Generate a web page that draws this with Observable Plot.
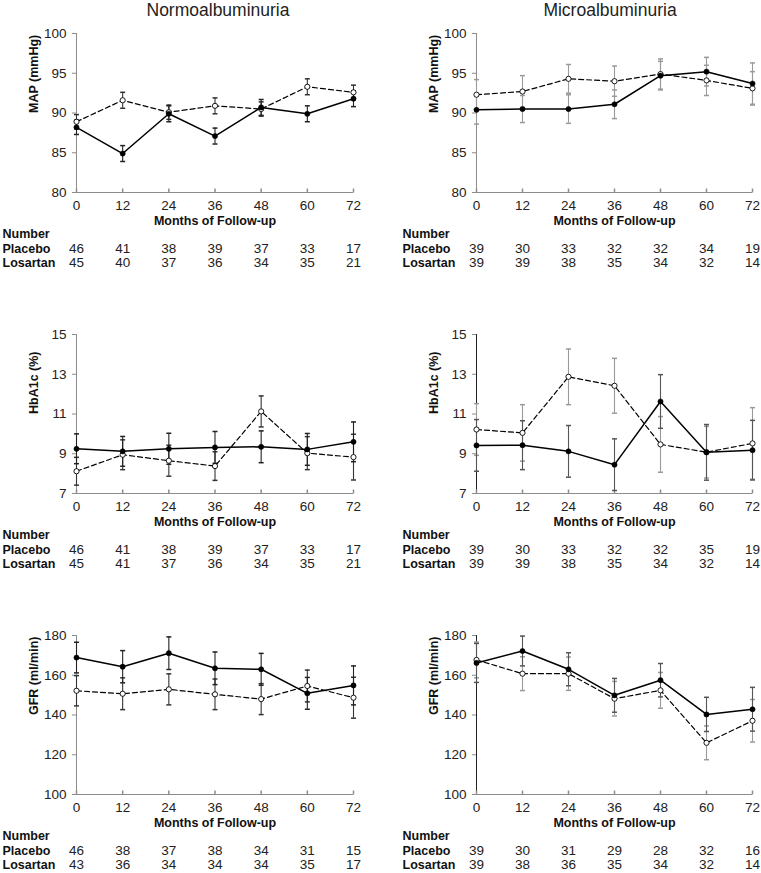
<!DOCTYPE html>
<html>
<head>
<meta charset="utf-8">
<script src="https://cdn.jsdelivr.net/npm/d3@7"></script>
<script src="https://cdn.jsdelivr.net/npm/@observablehq/plot@0.6"></script>
<style>
  html, body { margin: 0; padding: 0; background: #fff; }
  #root { position: relative; width: 761px; height: 873px; overflow: hidden; font-family: "Liberation Sans", Arial, sans-serif; }
  .title { position: absolute; top: 0; width: 300px; text-align: center; font-size: 17.5px; line-height: 20px; color: #222; }
  .panel { position: absolute; }
  .panel svg { overflow: visible; }
</style>
</head>
<body>
<div id="root"></div>
<script>
// ---------- data ----------
const months = [0, 12, 24, 36, 48, 60, 72];
const columnTitles = ["Normoalbuminuria", "Microalbuminuria"];

// MAP (mmHg)
const normoMapLos = [88.2, 84.9, 89.9, 87.1, 90.7, 89.9, 91.8];
const normoMapLosErr = [0.9, 1.0, 1.0, 1.0, 1.0, 1.0, 1.0];
const normoMapPla = [88.9, 91.6, 90.1, 90.9, 90.5, 93.3, 92.6];
const normoMapPlaErr = [0.9, 1.0, 0.9, 1.0, 0.9, 1.0, 0.9];
const microMapLos = [90.4, 90.5, 90.5, 91.1, 94.7, 95.2, 93.7];
const microMapLosErr = [1.8, 1.7, 1.8, 1.8, 1.8, 1.8, 2.6];
const microMapPla = [92.3, 92.7, 94.3, 94.0, 94.9, 94.1, 93.1];
const microMapPlaErr = [1.9, 2.0, 1.8, 1.9, 1.9, 1.9, 2.1];

// HbA1c (%)
const normoHbLos = [9.25, 9.12, 9.25, 9.32, 9.35, 9.22, 9.6];
const normoHbLosErr = [0.75, 0.75, 0.78, 0.8, 0.8, 0.8, 1.0];
const normoHbPla = [8.12, 8.95, 8.65, 8.38, 11.13, 9.03, 8.83];
const normoHbPlaErr = [0.7, 0.75, 0.78, 0.72, 0.78, 0.83, 1.15];
const microHbLos = [9.42, 9.43, 9.12, 8.45, 11.63, 9.07, 9.18];
const microHbLosErr = [1.3, 1.23, 1.3, 1.3, 1.35, 1.4, 1.5];
const microHbPla = [10.22, 10.05, 12.87, 12.42, 9.47, 9.08, 9.52];
const microHbPlaErr = [1.3, 1.42, 1.4, 1.38, 1.4, 1.3, 1.8];

// GFR (ml/min)
const normoGfrLos = [168.9, 164.3, 171.1, 163.5, 163.0, 150.9, 154.9];
const normoGfrLosErr = [7.7, 8.1, 8.2, 8.2, 8.0, 8.0, 9.8];
const normoGfrPla = [152.2, 150.7, 152.9, 150.4, 148.0, 154.6, 148.7];
const normoGfrPlaErr = [7.6, 8.0, 7.8, 7.7, 7.8, 8.0, 10.3];
const microGfrLos = [166.2, 172.2, 163.0, 149.9, 157.5, 140.3, 142.9];
const microGfrLosErr = [9.8, 7.5, 8.3, 8.5, 8.4, 8.6, 11.0];
const microGfrPla = [167.7, 160.8, 160.8, 148.2, 152.4, 126.0, 137.1];
const microGfrPlaErr = [9.0, 8.5, 8.4, 8.7, 9.0, 8.5, 10.7];

// Numbers at risk
const normoMapNPla = [46, 41, 38, 39, 37, 33, 17];
const normoMapNLos = [45, 40, 37, 36, 34, 35, 21];
const normoHbNPla = [46, 41, 38, 39, 37, 33, 17];
const normoHbNLos = [45, 41, 37, 36, 34, 35, 21];
const normoGfrNPla = [46, 38, 37, 38, 34, 31, 15];
const normoGfrNLos = [43, 36, 34, 34, 34, 35, 17];
const microMapNPla = [39, 30, 33, 32, 32, 34, 19];
const microMapNLos = [39, 39, 38, 35, 34, 32, 14];
const microHbNPla = [39, 30, 33, 32, 32, 35, 19];
const microHbNLos = [39, 39, 38, 35, 34, 32, 14];
const microGfrNPla = [39, 30, 31, 29, 28, 32, 16];
const microGfrNLos = [39, 38, 36, 35, 34, 32, 14];

const yLabels = ["MAP (mmHg)", "HbA1c (%)", "GFR (ml/min)"];
const yDomains = [[80, 100], [7, 15], [100, 180]];
const yTickSets = [[80, 85, 90, 95, 100], [7, 9, 11, 13, 15], [100, 120, 140, 160, 180]];
const rowLabels = ["Number", "Placebo", "Losartan"];
const xLabel = "Months of Follow-up";

// ---------- drawing ----------
const FONT = "'Liberation Sans', Arial, sans-serif";
const tickUp = {draw(ctx) { ctx.moveTo(0, 0); ctx.lineTo(0, -4); }};
const cap = {draw(ctx) { ctx.moveTo(-2.5, 0); ctx.lineTo(2.5, 0); }};

function panel(o) {
  const rows = months.map((m, i) => ({
    m,
    los: o.los[i], losLo: o.los[i] - o.losErr[i], losHi: o.los[i] + o.losErr[i],
    pla: o.pla[i], plaLo: o.pla[i] - o.plaErr[i], plaHi: o.pla[i] + o.plaErr[i]
  }));
  const left = o.col === 0;
  const axisGray = "#8c8c8c";
  const yAxisColor = o.yAxisColor || axisGray;
  const ymin = o.yDomain[0];
  const bold = {fontWeight: "bold", fontSize: 12.5, fill: "#111"};
  return Plot.plot({
    width: left ? 380 : 381,
    height: 12 + 159 + 80,
    marginTop: 12,
    marginBottom: 80,
    marginLeft: left ? 76 : 96,
    marginRight: left ? 27 : 9,
    style: {fontFamily: FONT, fontSize: "13.5px", color: "#222", background: "transparent", overflow: "visible"},
    x: {domain: [0, 72]},
    y: {domain: o.yDomain},
    marks: [
      Plot.axisY({ticks: o.yTicks, tickSize: 4, tickPadding: 6, label: null, stroke: axisGray}),
      Plot.axisX({ticks: months, tickSize: 0, tickPadding: 8, label: null}),
      Plot.ruleY([ymin], {stroke: axisGray}),
      Plot.ruleX([0], {stroke: yAxisColor}),
      Plot.dot(months, {x: d => d, y: () => ymin, symbol: tickUp, stroke: axisGray, fill: "none"}),
      // error bars
      Plot.ruleX(rows, {x: "m", y1: "plaLo", y2: "plaHi", stroke: o.plaBar, strokeWidth: 1.1}),
      Plot.dot(rows, {x: "m", y: "plaLo", symbol: cap, stroke: o.plaBar, fill: "none"}),
      Plot.dot(rows, {x: "m", y: "plaHi", symbol: cap, stroke: o.plaBar, fill: "none"}),
      Plot.ruleX(rows, {x: "m", y1: "losLo", y2: "losHi", stroke: o.losBar, strokeWidth: 1.1}),
      Plot.dot(rows, {x: "m", y: "losLo", symbol: cap, stroke: o.losBar, fill: "none"}),
      Plot.dot(rows, {x: "m", y: "losHi", symbol: cap, stroke: o.losBar, fill: "none"}),
      // lines
      Plot.line(rows, {x: "m", y: "pla", stroke: "#000", strokeWidth: 1.2, strokeDasharray: "5,3"}),
      Plot.line(rows, {x: "m", y: "los", stroke: "#000", strokeWidth: 1.5}),
      Plot.dot(rows, {x: "m", y: "pla", r: 2.6, fill: "#fff", stroke: "#000", strokeWidth: 0.9}),
      Plot.dot(rows, {x: "m", y: "los", r: 2.6, fill: "#000", stroke: "#000", strokeWidth: 0.5}),
      // labels
      Plot.text([o.yLabel], {text: d => d, frameAnchor: "left", rotate: -90, dx: -43, ...bold}),
      Plot.text([xLabel], {text: d => d, frameAnchor: "bottom", dy: 32, ...bold}),
      Plot.text([rowLabels[0]], {text: d => d, frameAnchor: "bottom-left", textAnchor: "start", dx: -74, dy: 45, ...bold}),
      Plot.text([rowLabels[1]], {text: d => d, frameAnchor: "bottom-left", textAnchor: "start", dx: -74, dy: 60, ...bold}),
      Plot.text([rowLabels[2]], {text: d => d, frameAnchor: "bottom-left", textAnchor: "start", dx: -74, dy: 74, ...bold}),
      Plot.text(months, {x: d => d, text: (d, i) => o.nPla[i], frameAnchor: "bottom", dy: 60, fill: "#222"}),
      Plot.text(months, {x: d => d, text: (d, i) => o.nLos[i], frameAnchor: "bottom", dy: 74, fill: "#222"})
    ]
  });
}

const root = document.getElementById("root");
columnTitles.forEach((t, c) => {
  const d = document.createElement("div");
  d.className = "title";
  d.textContent = t;
  d.style.left = (c === 0 ? 218 - 150 : 610 - 150) + "px";
  root.appendChild(d);
});

const panels = [
  {col: 0, row: 0, los: normoMapLos, losErr: normoMapLosErr, pla: normoMapPla, plaErr: normoMapPlaErr, nPla: normoMapNPla, nLos: normoMapNLos},
  {col: 0, row: 1, los: normoHbLos, losErr: normoHbLosErr, pla: normoHbPla, plaErr: normoHbPlaErr, nPla: normoHbNPla, nLos: normoHbNLos},
  {col: 0, row: 2, los: normoGfrLos, losErr: normoGfrLosErr, pla: normoGfrPla, plaErr: normoGfrPlaErr, nPla: normoGfrNPla, nLos: normoGfrNLos},
  {col: 1, row: 0, los: microMapLos, losErr: microMapLosErr, pla: microMapPla, plaErr: microMapPlaErr, nPla: microMapNPla, nLos: microMapNLos},
  {col: 1, row: 1, los: microHbLos, losErr: microHbLosErr, pla: microHbPla, plaErr: microHbPlaErr, nPla: microHbNPla, nLos: microHbNLos},
  {col: 1, row: 2, los: microGfrLos, losErr: microGfrLosErr, pla: microGfrPla, plaErr: microGfrPlaErr, nPla: microGfrNPla, nLos: microGfrNLos}
];
const plotTops = [33, 334, 635];

panels.forEach(p => {
  const opts = {
    ...p,
    yLabel: yLabels[p.row],
    yDomain: yDomains[p.row],
    yTicks: yTickSets[p.row],
    plaBar: p.col === 0 ? "#333" : "#9a9a9a",
    losBar: p.col === 0 ? "#222" : (p.row === 0 ? "#9a9a9a" : "#555"),
    yAxisColor: p.col === 1 && p.row > 0 ? "#222" : null
  };
  const div = document.createElement("div");
  div.className = "panel";
  div.style.left = (p.col === 0 ? 0 : 380) + "px";
  div.style.top = (plotTops[p.row] - 12) + "px";
  div.appendChild(panel(opts));
  root.appendChild(div);
});
</script>
</body>
</html>
